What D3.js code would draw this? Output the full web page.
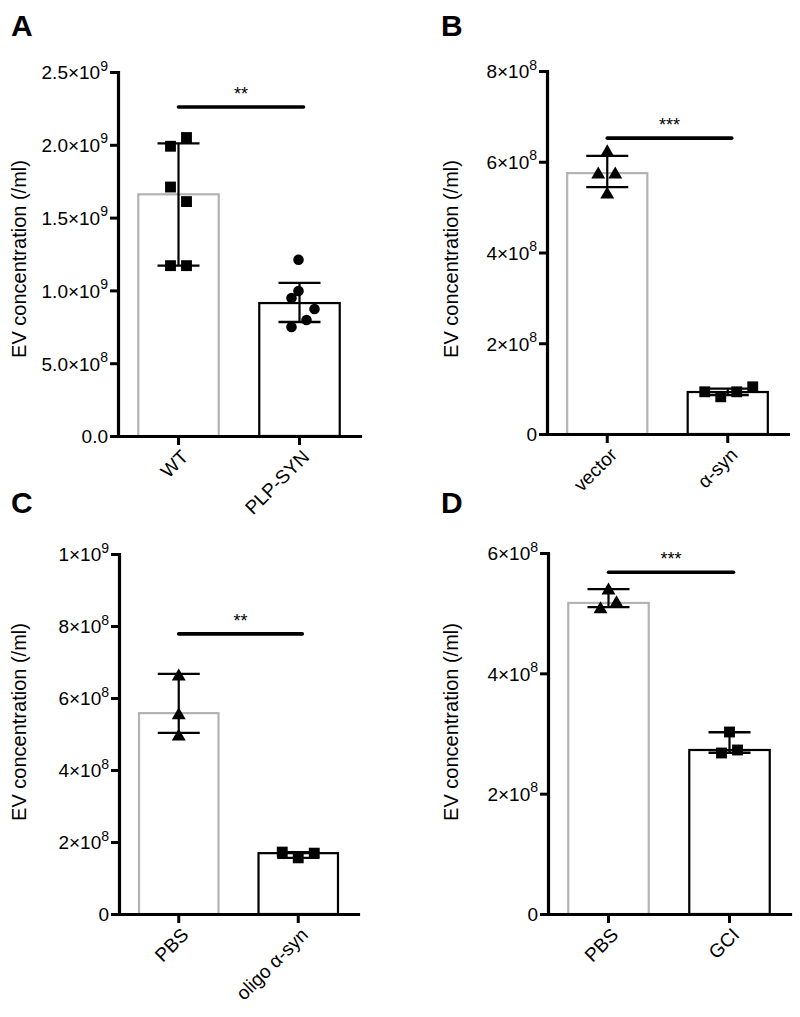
<!DOCTYPE html>
<html>
<head>
<meta charset="utf-8">
<script src="https://cdn.jsdelivr.net/npm/d3@7"></script>
<style>
  html, body { margin: 0; padding: 0; background: #fff; }
  svg { display: block; }
</style>
</head>
<body>
<svg id="chart" width="800" height="1017"></svg>
<script>
// ---------------- DATA ----------------
const panelLetters = ["A", "B", "C", "D"];
const yAxisTitle = "EV concentration (/ml)";

// Panel A
const categoriesA = ["WT", "PLP-SYN"];
const pointsA_WT  = [1.99e9, 2.05e9, 1.71e9, 1.61e9, 1.17e9, 1.17e9];
const pointsA_PLP = [1.21e9, 0.996e9, 0.948e9, 0.872e9, 0.797e9, 0.749e9];
const centerA = [1.66e9, 0.913e9];
const lowA    = [1.17e9, 0.783e9];
const highA   = [2.01e9, 1.052e9];
const ticksA  = [0, 0.5e9, 1.0e9, 1.5e9, 2.0e9, 2.5e9];
const tickLabelsA = ["0.0", "5.0×10^8", "1.0×10^9", "1.5×10^9", "2.0×10^9", "2.5×10^9"];
const sigA = { value: 2.26e9, text: "**" };

// Panel B
const categoriesB = ["vector", "α-syn"];
const pointsB_vector = [6.24e8, 5.75e8, 5.75e8, 5.31e8];
const pointsB_asyn   = [0.93e8, 0.82e8, 0.93e8, 1.04e8];
const centerB = [5.75e8, 0.925e8];
const lowB    = [5.44e8, 0.86e8];
const highB   = [6.13e8, 1.00e8];
const ticksB  = [0, 2e8, 4e8, 6e8, 8e8];
const tickLabelsB = ["0", "2×10^8", "4×10^8", "6×10^8", "8×10^8"];
const sigB = { value: 6.52e8, text: "***" };

// Panel C
const categoriesC = ["PBS", "oligo α-syn"];
const pointsC_PBS   = [6.64e8, 5.56e8, 4.97e8];
const pointsC_oligo = [1.72e8, 1.56e8, 1.69e8];
const centerC = [5.58e8, 1.69e8];
const lowC    = [5.03e8, 1.56e8];
const highC   = [6.67e8, 1.72e8];
const ticksC  = [0, 2e8, 4e8, 6e8, 8e8, 1e9];
const tickLabelsC = ["0", "2×10^8", "4×10^8", "6×10^8", "8×10^8", "1×10^9"];
const sigC = { value: 7.78e8, text: "**" };

// Panel D
const categoriesD = ["PBS", "GCI"];
const pointsD_PBS = [5.40e8, 5.09e8, 5.19e8];
const pointsD_GCI = [3.025e8, 2.676e8, 2.726e8];
const centerD = [5.17e8, 2.726e8];
const lowD    = [5.10e8, 2.68e8];
const highD   = [5.40e8, 3.02e8];
const ticksD  = [0, 2e8, 4e8, 6e8];
const tickLabelsD = ["0", "2×10^8", "4×10^8", "6×10^8"];
const sigD = { value: 5.68e8, text: "***" };

// ---------------- LAYOUT ----------------
const FONT = "Arial, 'Liberation Sans', Helvetica, sans-serif";
const GRAY = "#b3b3b3";

const panels = [
  { letter: panelLetters[0], letterPos: [11, 36], ax: 118, yTop: 72, yBot: 436, xRight: 360,
    domain: [0, 2.5e9], ticks: ticksA, tickLabels: tickLabelsA, cats: categoriesA,
    points: [pointsA_WT, pointsA_PLP], center: centerA, low: lowA, high: highA,
    offsets: [[-8, 8, -8, 8, -8, 8], [-1, -1, -8, 15, 7, -8]],
    markers: ["square", "circle"], sig: sigA, titleX: 26, titleY: 259 },
  { letter: panelLetters[1], letterPos: [441, 36], ax: 547, yTop: 71, yBot: 434, xRight: 788,
    domain: [0, 8e8], ticks: ticksB, tickLabels: tickLabelsB, cats: categoriesB,
    points: [pointsB_vector, pointsB_asyn], center: centerB, low: lowB, high: highB,
    offsets: [[0, -9, 8, 0], [-23, -7, 9, 25]],
    markers: ["triangle", "square"], sig: sigB, titleX: 458, titleY: 259 },
  { letter: panelLetters[2], letterPos: [11, 513], ax: 119, yTop: 554, yBot: 914, xRight: 358,
    domain: [0, 1e9], ticks: ticksC, tickLabels: tickLabelsC, cats: categoriesC,
    points: [pointsC_PBS, pointsC_oligo], center: centerC, low: lowC, high: highC,
    offsets: [[0, 0, 0], [-16, 0, 16]],
    markers: ["triangle", "square"], sig: sigC, titleX: 26, titleY: 722 },
  { letter: panelLetters[3], letterPos: [441, 513], ax: 548, yTop: 553, yBot: 914, xRight: 790,
    domain: [0, 6e8], ticks: ticksD, tickLabels: tickLabelsD, cats: categoriesD,
    points: [pointsD_PBS, pointsD_GCI], center: centerD, low: lowD, high: highD,
    offsets: [[0, -8, 8], [0, -8, 8]],
    markers: ["triangle", "square"], sig: sigD, titleX: 458, titleY: 722 }
];

const symbolTypes = { square: d3.symbolSquare, circle: d3.symbolCircle, triangle: d3.symbolTriangle };
const symbolSizes = { square: 118, circle: 88, triangle: 84 };

const svg = d3.select("#chart");

panels.forEach(p => {
  const g = svg.append("g");
  const y = d3.scaleLinear().domain(p.domain).range([p.yBot, p.yTop]);
  const x = d3.scaleBand().domain(p.cats).range([p.ax, p.xRight]).padding(0);
  const barW = x.bandwidth() * 0.665;
  const cx = c => x(c) + x.bandwidth() / 2;

  // panel letter
  g.append("text").attr("x", p.letterPos[0]).attr("y", p.letterPos[1])
    .attr("font-family", FONT).attr("font-weight", "bold").attr("font-size", 30)
    .text(p.letter);

  // bars
  g.selectAll("rect.bar").data(p.cats).join("rect")
    .attr("class", "bar")
    .attr("x", c => cx(c) - barW / 2)
    .attr("width", barW)
    .attr("y", (c, i) => y(p.center[i]))
    .attr("height", (c, i) => y(0) - y(p.center[i]))
    .attr("fill", "#fff")
    .attr("stroke", (c, i) => i === 0 ? GRAY : "#000")
    .attr("stroke-width", 2.2);

  // points
  p.cats.forEach((c, i) => {
    const sym = d3.symbol().type(symbolTypes[p.markers[i]]).size(symbolSizes[p.markers[i]]);
    g.selectAll(null).data(p.points[i]).join("path")
      .attr("transform", (v, j) => {
        const dy = p.markers[i] === "triangle" ? 1.5 : 0;
        return `translate(${cx(c) + p.offsets[i][j]},${y(v) + dy})`;
      })
      .attr("d", sym())
      .attr("fill", "#000");
  });

  // error bars
  p.cats.forEach((c, i) => {
    const xc = cx(c);
    g.append("line").attr("x1", xc).attr("x2", xc)
      .attr("y1", y(p.high[i])).attr("y2", y(p.low[i]))
      .attr("stroke", "#000").attr("stroke-width", 2.2);
    [p.high[i], p.low[i]].forEach(v => {
      g.append("line").attr("x1", xc - 21).attr("x2", xc + 21)
        .attr("y1", y(v)).attr("y2", y(v))
        .attr("stroke", "#000").attr("stroke-width", 2.4);
    });
  });

  // y axis
  const yAxis = g.append("g").attr("transform", `translate(${p.ax},0)`)
    .call(d3.axisLeft(y).tickValues(p.ticks).tickSize(8).tickSizeOuter(0).tickFormat(""));
  yAxis.select(".domain").attr("stroke-width", 3.2).attr("stroke-linecap", "square");
  yAxis.selectAll(".tick line").attr("stroke-width", 3);
  yAxis.selectAll(".tick").each(function (d, i) {
    const parts = p.tickLabels[i].split("^");
    const t = d3.select(this).append("text")
      .attr("x", -10).attr("y", 0).attr("dy", "0.36em")
      .attr("text-anchor", "end").attr("fill", "#000")
      .attr("font-family", FONT).attr("font-size", 19);
    t.append("tspan").text(parts[0]);
    if (parts[1]) {
      t.append("tspan").attr("font-size", 14).attr("dy", "-0.62em").text(parts[1]);
    }
  });

  // x axis
  const xAxis = g.append("g").attr("transform", `translate(0,${p.yBot})`)
    .call(d3.axisBottom(x).tickSize(9).tickSizeOuter(0).tickFormat(""));
  xAxis.select(".domain").attr("stroke-width", 3.2).attr("stroke-linecap", "square");
  xAxis.selectAll(".tick line").attr("stroke-width", 3);
  xAxis.selectAll(".tick").append("text")
    .attr("text-anchor", "end").attr("fill", "#000")
    .attr("font-family", FONT).attr("font-size", 19)
    .attr("transform", "translate(11,22) rotate(-45)")
    .text(d => d);

  // y axis title
  g.append("text")
    .attr("transform", `translate(${p.titleX},${p.titleY}) rotate(-90)`)
    .attr("text-anchor", "middle")
    .attr("font-family", FONT).attr("font-size", 20)
    .text(yAxisTitle);

  // significance line
  const x1 = cx(p.cats[0]), x2 = cx(p.cats[1]) + 4;
  g.append("line").attr("x1", x1).attr("x2", x2)
    .attr("y1", y(p.sig.value)).attr("y2", y(p.sig.value))
    .attr("stroke", "#000").attr("stroke-width", 3.6).attr("stroke-linecap", "round");
  g.append("text").attr("x", (x1 + x2) / 2).attr("y", y(p.sig.value) - 7)
    .attr("text-anchor", "middle")
    .attr("font-family", FONT).attr("font-size", 18)
    .text(p.sig.text);
});
</script>
</body>
</html>
